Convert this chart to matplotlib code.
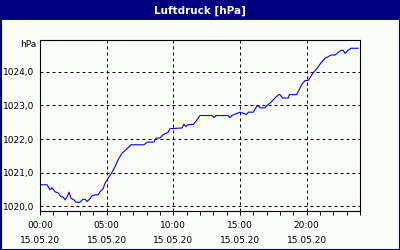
import matplotlib
matplotlib.use("Agg")
import matplotlib.pyplot as plt
from matplotlib.patches import Rectangle
from matplotlib.ticker import MultipleLocator, FixedLocator

# Luftdruck 15.05.20, hours since midnight vs hPa
hours = [0.0, 0.53, 0.75, 0.90, 1.13, 1.35, 1.58, 1.73, 1.88, 2.03, 2.18, 2.33,
         2.55, 2.70, 3.00, 3.23, 3.38, 3.53, 3.75, 3.90, 4.13, 4.35, 4.50, 4.73,
         4.88, 5.10, 5.40, 5.63, 5.85, 6.15, 6.45, 6.83, 7.80, 8.03, 8.55, 8.70,
         9.00, 9.23, 9.60, 9.75, 10.65, 10.80, 10.95, 11.10, 11.48, 11.70, 12.00,
         12.90, 13.05, 13.20, 14.10, 14.25, 14.40, 15.00, 15.50, 15.63, 16.00,
         16.25, 16.38, 16.50, 16.88, 17.00, 17.25, 17.88, 18.00, 18.20, 18.63,
         18.70, 19.25, 19.38, 19.63, 19.88, 20.10, 20.33, 20.48, 20.78, 21.08,
         21.38, 21.83, 22.13, 22.35, 22.58, 22.73, 22.88, 23.10, 23.33, 23.85]
pressure = [1020.64, 1020.64, 1020.49, 1020.55, 1020.43, 1020.40, 1020.28, 1020.28,
            1020.19, 1020.28, 1020.42, 1020.24, 1020.19, 1020.12, 1020.12, 1020.21,
            1020.21, 1020.14, 1020.23, 1020.31, 1020.34, 1020.34, 1020.43, 1020.52,
            1020.69, 1020.83, 1021.01, 1021.18, 1021.38, 1021.58, 1021.68, 1021.83,
            1021.83, 1021.91, 1021.91, 1022.03, 1022.03, 1022.13, 1022.20, 1022.31,
            1022.33, 1022.44, 1022.37, 1022.43, 1022.43, 1022.53, 1022.70, 1022.70,
            1022.64, 1022.70, 1022.70, 1022.64, 1022.70, 1022.80, 1022.73, 1022.80,
            1022.80, 1022.97, 1022.99, 1022.93, 1022.93, 1022.99, 1023.07, 1023.32,
            1023.32, 1023.22, 1023.22, 1023.32, 1023.32, 1023.42, 1023.62, 1023.74,
            1023.74, 1023.87, 1023.97, 1024.10, 1024.27, 1024.40, 1024.50, 1024.50,
            1024.57, 1024.64, 1024.64, 1024.55, 1024.64, 1024.70, 1024.70]

x_ticks = [0, 5, 10, 15, 20]
x_labels = ["00:00\n15.05.20", "05:00\n15.05.20", "10:00\n15.05.20",
            "15:00\n15.05.20", "20:00\n15.05.20"]
y_ticks = [1020, 1021, 1022, 1023, 1024]
y_labels = ["1020,0", "1021,0", "1022,0", "1023,0", "1024,0"]

navy = "#000080"
bg = "#fafdfa"

fig = plt.figure(figsize=(4, 2.5), dpi=100)
fig.patch.set_facecolor(bg)

# title bar and frame
fig.add_artist(Rectangle((0, 1 - 20 / 250), 1, 20 / 250, transform=fig.transFigure,
                         facecolor=navy, edgecolor="none"))
fig.add_artist(Rectangle((0.5 / 400, 0.5 / 250), 399 / 400, 249 / 250,
                         transform=fig.transFigure, facecolor="none",
                         edgecolor=navy, lw=1.5))
fig.text(0.5, 1 - 10.5 / 250, "Luftdruck [hPa]", color="white", fontsize=7.5,
         fontweight="bold", ha="center", va="center")

ax = fig.add_axes([40 / 400, 1 - 210.5 / 250, 320 / 400, 170.5 / 250])
ax.set_facecolor(bg)
ax.plot(hours, pressure, color="#0000ff", lw=0.8)

ax.set_xlim(0, 24)
ax.set_ylim(1019.875, 1024.946)
ax.xaxis.set_major_locator(FixedLocator(x_ticks))
ax.xaxis.set_minor_locator(MultipleLocator(1))
ax.set_xticklabels(x_labels, fontsize=6.5, linespacing=1.8)
ax.set_yticks(y_ticks)
ax.set_yticklabels(y_labels, fontsize=6.5)

ax.tick_params(axis="x", which="both", direction="out", length=3, width=0.7, pad=4.5)
ax.tick_params(axis="y", length=0, pad=4)
ax.grid(True, color="black", lw=0.72, linestyle=(0, (3, 3)))

for s in ax.spines.values():
    s.set_linewidth(0.8)
    s.set_color("black")

fig.text(36 / 400, 1 - 45 / 250, "hPa", fontsize=6.5, ha="right", va="center")

fig.savefig("out.png", dpi=100, facecolor=bg)
